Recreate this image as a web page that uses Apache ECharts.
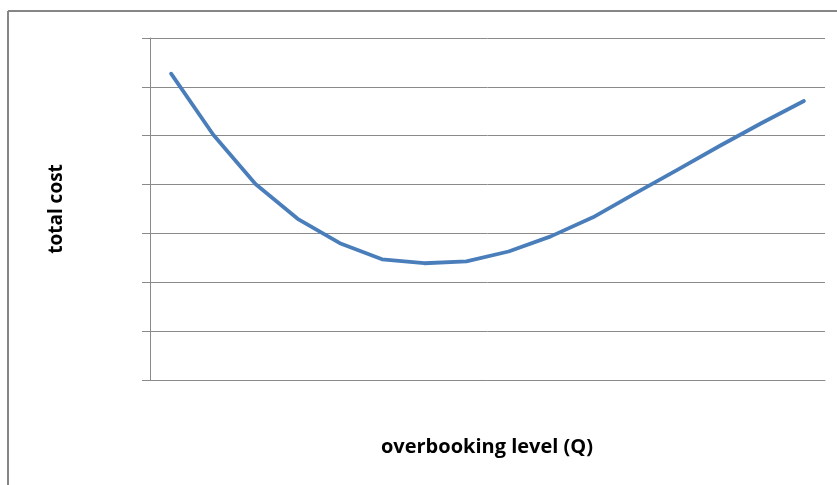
<!DOCTYPE html>
<html>
<head>
<meta charset="utf-8">
<script src="https://cdn.jsdelivr.net/npm/echarts@6/dist/echarts.min.js"></script>
<style>html,body{margin:0;padding:0;background:#fff;}#c{width:837px;height:485px;}</style>
</head>
<body>
<div id="c"></div>
<script>
var categories = ['1','2','3','4','5','6','7','8','9','10','11','12','13','14','15','16'];
var totalCost = [6.27, 5.02, 4.01, 3.30, 2.80, 2.47, 2.39, 2.43, 2.63, 2.94, 3.33, 3.82, 4.30, 4.79, 5.26, 5.71];
var yMin = 0, yMax = 7, yStep = 1;
var xTitle = 'overbooking level (Q)';
var yTitle = 'total cost';

var chart = echarts.init(document.getElementById('c'), null, {renderer: 'canvas'});
var gridColor = '#8a8a8a';
chart.setOption({
  animation: false,
  backgroundColor: '#fff',
  grid: {left: 150, right: 12, top: 38, bottom: 105, containLabel: false},
  xAxis: {
    type: 'category',
    data: categories,
    boundaryGap: true,
    axisLine: {show: true, lineStyle: {color: gridColor, width: 1}},
    axisTick: {show: false},
    axisLabel: {show: false},
    splitLine: {show: false}
  },
  yAxis: {
    type: 'value',
    min: yMin, max: yMax, interval: yStep,
    axisLine: {show: true, lineStyle: {color: gridColor, width: 1}},
    axisTick: {show: true, length: 8, lineStyle: {color: gridColor, width: 1}},
    axisLabel: {show: false},
    splitLine: {show: true, lineStyle: {color: gridColor, width: 1}}
  },
  series: [{
    type: 'line',
    data: totalCost,
    smooth: false,
    symbol: 'none',
    lineStyle: {color: '#4a7ebb', width: 3.8, cap: 'round', join: 'round'}
  }],
  graphic: [
    {type: 'line', shape: {x1: 8, y1: 11, x2: 837, y2: 11}, style: {stroke: '#868686', lineWidth: 2}},
    {type: 'line', shape: {x1: 8, y1: 11, x2: 8, y2: 485}, style: {stroke: '#868686', lineWidth: 2}},
    {type: 'text', x: 487, y: 447, style: {text: xTitle, font: 'bold 20px "Open Sans", sans-serif', fill: '#000', align: 'center', verticalAlign: 'middle'}},
    {type: 'text', x: 57, y: 209, rotation: Math.PI / 2, style: {text: yTitle, font: 'bold 19px "Open Sans", sans-serif', fill: '#000', align: 'center', verticalAlign: 'middle'}}
  ]
});
</script>
</body>
</html>
